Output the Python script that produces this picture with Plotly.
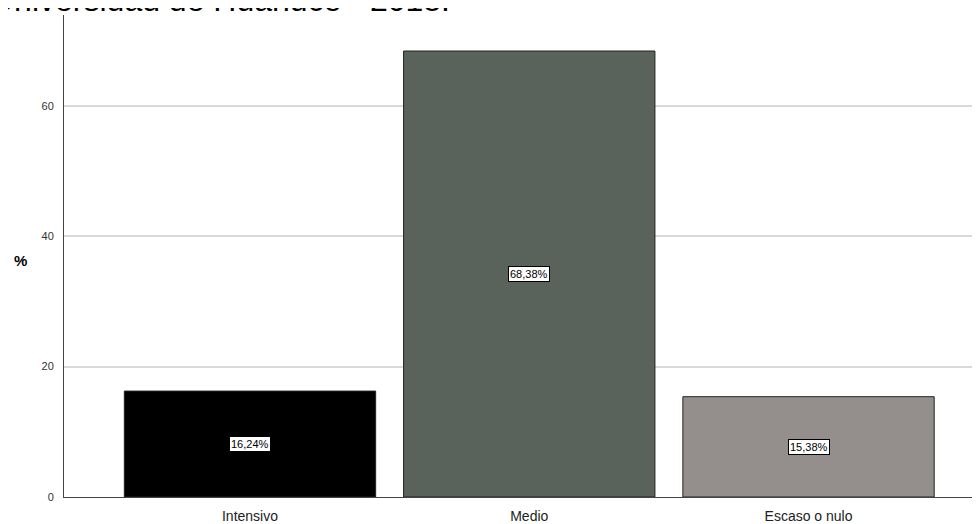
import plotly.graph_objects as go

categories = ["Intensivo", "Medio", "Escaso o nulo"]
values = [16.24, 68.38, 15.38]
labels = ["16,24%", "68,38%", "15,38%"]
colors = ["#000000", "#59635b", "#948f8d"]
title_text = "Universidad de Huánuco - 2018."
y_ticks = [0, 20, 40, 60]

# the page body adds an 8px offset; the figure is sized to fill the rest
W, H = 972, 516
ML, MT, MB = 56, 7, 27
PW, PH = W - ML, H - MT - MB

fig = go.Figure()
fig.add_trace(go.Bar(
    x=categories, y=values, width=0.9,
    marker=dict(color=colors, line=dict(color="#222222", width=1)),
    hoverinfo="skip",
))

for c, v, t in zip(categories, values, labels):
    fig.add_annotation(x=c, y=v / 2, text=t, showarrow=False,
                       bgcolor="white", bordercolor="#000000", borderwidth=1, borderpad=1,
                       font=dict(family="Liberation Sans, Arial", size=11, color="#000000"))

fig.add_annotation(xref="paper", yref="paper", x=-(ML + 19) / PW, y=1 - 4.6 / PH,
                   xanchor="left", yanchor="bottom",
                   text=title_text, showarrow=False,
                   font=dict(family="Liberation Sans, Arial", size=32, color="#000000"))

fig.add_annotation(xref="paper", yref="paper", x=(12 - ML) / PW, y=(PH + MT - 252) / PH,
                   xanchor="center", yanchor="middle",
                   text="<b>%</b>", showarrow=False,
                   font=dict(family="Liberation Sans, Arial", size=15, color="#000000"))

fig.update_layout(
    width=W, height=H,
    margin=dict(l=ML, r=0, t=MT, b=MB, autoexpand=False),
    paper_bgcolor="white", plot_bgcolor="white",
    showlegend=False,
    bargap=0.1,
)
fig.update_xaxes(
    type="category", range=[-0.666, 2.614],
    showline=True, linecolor="#444444", linewidth=1,
    showgrid=False, ticks="", ticklabelstandoff=6,
    tickfont=dict(family="Liberation Sans, Arial", size=14, color="#222222"),
    automargin=False,
)
fig.update_yaxes(
    range=[0, 73.9], tickvals=y_ticks,
    showline=True, linecolor="#444444", linewidth=1,
    showgrid=True, gridcolor="#d9d9d9", gridwidth=1.5,
    zeroline=False, ticks="", ticklabelstandoff=7,
    tickfont=dict(family="Liberation Sans, Arial", size=11, color="#333333"),
    automargin=False,
)

fig.write_html("out.html")
